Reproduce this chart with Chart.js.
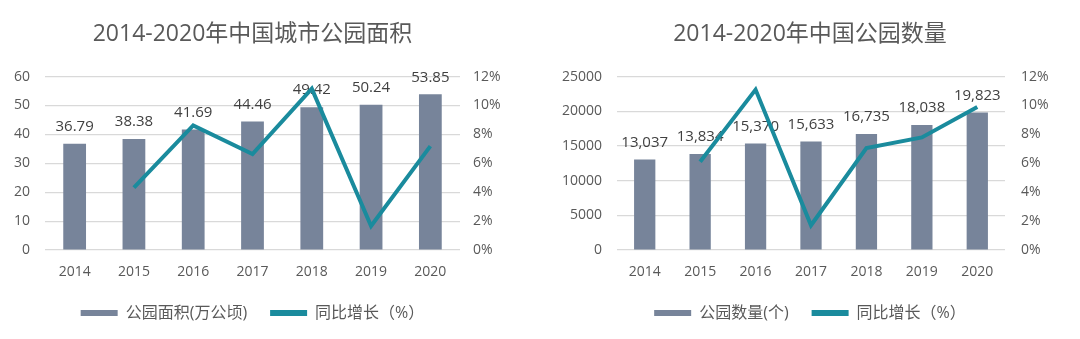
<!DOCTYPE html>
<html>
<head>
<meta charset="utf-8">
<script src="https://cdn.jsdelivr.net/npm/chart.js@4/dist/chart.umd.min.js"></script>
<style>
  html, body { margin: 0; padding: 0; background: #fff; }
  .wrap { display: flex; width: 1080px; height: 339px; }
  .box { width: 540px; height: 339px; position: relative; }
</style>
</head>
<body>
<div class="wrap">
  <div class="box"><canvas id="areaChart" width="540" height="339"></canvas></div>
  <div class="box"><canvas id="countChart" width="540" height="339"></canvas></div>
</div>
<script>
const years = ['2014', '2015', '2016', '2017', '2018', '2019', '2020'];

// 公园面积(万公顷) and its growth (%)
const parkArea = [36.79, 38.38, 41.69, 44.46, 49.42, 50.24, 53.85];
const areaGrowth = [null, 4.32, 8.62, 6.64, 11.16, 1.66, 7.19];

// 公园数量(个) and its growth (%)
const parkCount = [13037, 13834, 15370, 15633, 16735, 18038, 19823];
const countGrowth = [null, 6.11, 11.10, 1.71, 7.05, 7.79, 9.90];

const barColor = '#77849A';
const lineColor = '#1A8B9D';
const textColor = '#595959';
const fontFamily = "'Open Sans', 'Noto Sans CJK SC', sans-serif";

// labels above the bars, drawn right after the bar dataset so the line sits on top
const barLabels = {
  id: 'barLabels',
  afterDatasetDraw(chart, args, opts) {
    if (args.index !== 0) return;
    const ctx = chart.ctx;
    ctx.save();
    ctx.font = '15px ' + fontFamily;
    ctx.fillStyle = '#404040';
    ctx.textAlign = 'center';
    ctx.textBaseline = 'middle';
    args.meta.data.forEach((bar, i) => {
      const v = chart.data.datasets[0].data[i];
      ctx.fillText(opts.format(v), bar.x, bar.y - 17);
    });
    ctx.restore();
  }
};

function makeChart(id, cfg) {
  const ctx = document.getElementById(id).getContext('2d');
  return new Chart(ctx, {
    type: 'bar',
    data: {
      labels: years,
      datasets: [{
        label: cfg.barLabel,
        data: cfg.bars,
        backgroundColor: barColor,
        barPercentage: 0.8,
        categoryPercentage: 0.48,
        yAxisID: 'y',
        order: 1
      }, {
        type: 'line',
        label: '同比增长（%）',
        data: cfg.growth,
        borderColor: lineColor,
        backgroundColor: lineColor,
        borderWidth: 4,
        pointRadius: 0,
        tension: 0,
        yAxisID: 'y1',
        order: 0
      }]
    },
    options: {
      responsive: false,
      animation: false,
      layout: { padding: { left: 0, right: 0, top: 0, bottom: 8 } },
      plugins: {
        title: {
          display: true,
          text: cfg.title,
          color: textColor,
          fullSize: cfg.full,
          font: { size: 23, family: fontFamily, weight: 'normal' },
          padding: { top: 21, bottom: 28 }
        },
        legend: {
          position: 'bottom',
          fullSize: cfg.full,
          labels: {
            color: textColor,
            font: { size: 16, family: fontFamily },
            boxWidth: 37,
            boxHeight: 6,
            padding: 23,
            sort: (a, b) => a.datasetIndex - b.datasetIndex,
            generateLabels(chart) {
              const items = Chart.defaults.plugins.legend.labels.generateLabels(chart);
              items.forEach(it => {
                it.lineWidth = 0;
                it.fillStyle = chart.data.datasets[it.datasetIndex].backgroundColor;
              });
              return items;
            }
          }
        },
        tooltip: { enabled: false },
        barLabels: { format: cfg.format }
      },
      scales: {
        x: {
          grid: { display: false, drawTicks: false },
          border: { display: false },
          ticks: { color: textColor, font: { size: 14, family: fontFamily }, padding: 14 },
          afterFit(scale) { scale.height = 32; }
        },
        y: {
          position: 'left',
          min: 0,
          max: cfg.yMax,
          ticks: {
            stepSize: cfg.yStep,
            color: textColor,
            font: { size: 14, family: fontFamily },
            padding: cfg.leftPad,
            callback: v => String(v)
          },
          grid: { color: '#D9D9D9', lineWidth: 1.2, drawTicks: false },
          border: { display: false },
          afterFit(scale) { scale.width = cfg.leftWidth; }
        },
        y1: {
          position: 'right',
          min: 0,
          max: 12,
          ticks: {
            stepSize: 2,
            color: textColor,
            font: { size: 14, family: fontFamily },
            padding: cfg.rightPad,
            callback: v => v + '%'
          },
          grid: { display: false, drawTicks: false },
          border: { display: false },
          afterFit(scale) { scale.width = cfg.rightWidth; }
        }
      }
    },
    plugins: [barLabels]
  });
}

makeChart('areaChart', {
  title: '2014-2020年中国城市公园面积',
  full: false,
  barLabel: '公园面积(万公顷)',
  bars: parkArea,
  growth: areaGrowth,
  yMax: 60,
  yStep: 10,
  leftWidth: 45,
  leftPad: 15,
  rightWidth: 80,
  rightPad: 13,
  format: v => v.toFixed(2)
});

makeChart('countChart', {
  title: '2014-2020年中国公园数量',
  full: true,
  barLabel: '公园数量(个)',
  bars: parkCount,
  growth: countGrowth,
  yMax: 25000,
  yStep: 5000,
  leftWidth: 77,
  leftPad: 15,
  rightWidth: 75,
  rightPad: 16,
  format: v => v.toLocaleString('en-US')
});
</script>
</body>
</html>
